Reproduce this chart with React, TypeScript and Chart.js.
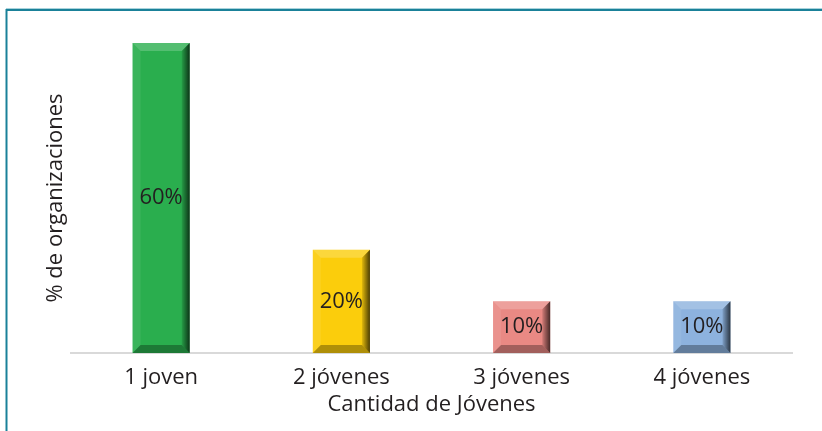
import React, { useEffect, useRef } from "react";
import { Chart, registerables } from "chart.js";

Chart.register(...registerables);

const categories = ["1 joven", "2 jóvenes", "3 jóvenes", "4 jóvenes"];
const values = [60, 20, 10, 10];
const valueLabels = ["60%", "20%", "10%", "10%"];
const barColors = ["#2aae4e", "#fbcd0c", "#e98984", "#8db2de"];
const xTitle = "Cantidad de Jóvenes";
const yTitle = "% de organizaciones";

const FONT = "'Open Sans', 'Noto Sans', sans-serif";
const TEXT = "#231f20";

const framePlugin = {
  id: "frame",
  beforeDraw(chart: any) {
    const { ctx, width, height } = chart;
    ctx.save();
    ctx.fillStyle = "#ffffff";
    ctx.fillRect(0, 0, width, height);
    ctx.strokeStyle = "#a9d3dc";
    ctx.lineWidth = 1;
    ctx.beginPath();
    ctx.moveTo(6, 8.5);
    ctx.lineTo(width, 8.5);
    ctx.stroke();
    ctx.strokeStyle = "#1a8199";
    ctx.lineWidth = 2;
    ctx.beginPath();
    ctx.moveTo(6, 10);
    ctx.lineTo(width, 10);
    ctx.moveTo(6.5, 9);
    ctx.lineTo(6.5, height);
    ctx.stroke();
    ctx.restore();
  },
};

const bevelPlugin = {
  id: "bevel",
  afterDatasetsDraw(chart: any) {
    const { ctx } = chart;
    const meta = chart.getDatasetMeta(0);
    meta.data.forEach((bar: any, i: number) => {
      const l = bar.x - bar.width / 2;
      const r = bar.x + bar.width / 2;
      const t = bar.y;
      const b = bar.base;
      const bv = 8;
      ctx.save();
      ctx.fillStyle = "rgba(255,255,255,0.2)";
      ctx.beginPath();
      ctx.moveTo(l, t);
      ctx.lineTo(r, t);
      ctx.lineTo(r - bv, t + bv);
      ctx.lineTo(l + bv, t + bv);
      ctx.closePath();
      ctx.fill();
      ctx.fillStyle = "rgba(255,255,255,0.08)";
      ctx.beginPath();
      ctx.moveTo(l, t);
      ctx.lineTo(l + bv, t + bv);
      ctx.lineTo(l + bv, b - bv);
      ctx.lineTo(l, b);
      ctx.closePath();
      ctx.fill();
      const g = ctx.createLinearGradient(r - bv, 0, r, 0);
      g.addColorStop(0, "rgba(0,0,0,0.1)");
      g.addColorStop(1, "rgba(0,0,0,0.7)");
      ctx.fillStyle = g;
      ctx.beginPath();
      ctx.moveTo(r, t);
      ctx.lineTo(r, b);
      ctx.lineTo(r - bv, b - bv);
      ctx.lineTo(r - bv, t + bv);
      ctx.closePath();
      ctx.fill();
      ctx.fillStyle = "rgba(0,0,0,0.3)";
      ctx.beginPath();
      ctx.moveTo(l, b);
      ctx.lineTo(r, b);
      ctx.lineTo(r - bv, b - bv);
      ctx.lineTo(l + bv, b - bv);
      ctx.closePath();
      ctx.fill();
      ctx.fillStyle = TEXT;
      ctx.font = `22px ${FONT}`;
      ctx.textAlign = "center";
      ctx.textBaseline = "middle";
      ctx.fillText(valueLabels[i], bar.x, (t + b) / 2);
      ctx.restore();
    });
  },
};

export default function App() {
  const ref = useRef<HTMLCanvasElement>(null);
  useEffect(() => {
    if (!ref.current) return;
    const chart = new Chart(ref.current, {
      type: "bar",
      data: {
        labels: categories,
        datasets: [
          {
            data: values,
            backgroundColor: barColors,
            borderWidth: 0,
            barPercentage: 0.317,
            categoryPercentage: 1,
          },
        ],
      },
      options: {
        responsive: false,
        animation: false,
        events: [],
        layout: { padding: { left: 42.3, right: 30, top: 43, bottom: 13.2 } },
        plugins: {
          legend: { display: false },
          tooltip: { enabled: false },
        },
        scales: {
          x: {
            grid: { display: false, drawTicks: false, tickLength: 0 },
            border: { display: true, color: "#d9d9d9", width: 2 },
            ticks: { color: TEXT, font: { family: FONT, size: 22 }, padding: 12 },
            title: {
              display: true,
              text: xTitle,
              color: TEXT,
              font: { family: FONT, size: 22 },
              padding: { top: -12, bottom: 0 },
            },
          },
          y: {
            min: 0,
            max: 60,
            grid: { display: false, drawTicks: false, tickLength: 0 },
            border: { display: false },
            ticks: { display: false },
            title: {
              display: true,
              text: yTitle,
              color: TEXT,
              font: { family: FONT, size: 22 },
              padding: { top: 0, bottom: 2.3 },
            },
          },
        },
      },
      plugins: [framePlugin, bevelPlugin],
    });
    return () => chart.destroy();
  }, []);
  return (
    <div style={{ position: "absolute", left: 0, top: 0, width: 822, height: 431 }}>
      <canvas ref={ref} width={822} height={431} />
    </div>
  );
}
